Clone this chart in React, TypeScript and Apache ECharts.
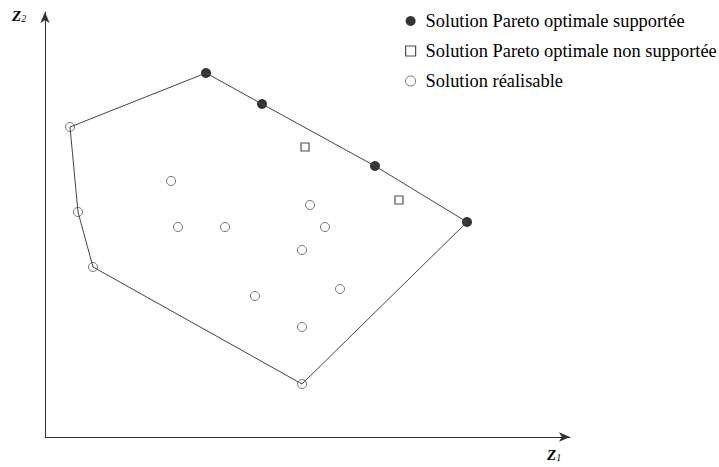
import React, { useEffect, useRef } from "react";
import * as echarts from "echarts";

// data in axis units (z1, z2)
const supported: number[][] = [[161, 364], [217, 333], [330, 271], [422, 215]];
const nonSupported: number[][] = [[260, 290], [354, 237]];
const feasible: number[][] = [
  [25, 310], [33, 225], [48, 170], [126, 256], [133, 210], [180, 210],
  [265, 232], [280, 210], [257, 187], [210, 141], [295, 148], [257, 110], [257, 53],
];
const hull: number[][] = [
  [25, 310], [161, 364], [217, 333], [330, 271], [422, 215], [257, 53],
  [48, 170], [33, 225], [25, 310],
];
const legendNames = [
  "Solution Pareto optimale supportée",
  "Solution Pareto optimale non supportée",
  "Solution réalisable",
];

export default function App() {
  const ref = useRef<HTMLDivElement>(null);
  useEffect(() => {
    const chart = echarts.init(ref.current!, null, { renderer: "svg" });
    const serif = "Liberation Serif";
    const zRich = {
      m: { fontFamily: serif, fontStyle: "italic", fontWeight: "bold", fontSize: 15, fill: "#000" },
      s: { fontFamily: serif, fontStyle: "italic", fontSize: 10, fill: "#000", padding: [6, 0, 0, 0] },
    };
    chart.setOption({
      animation: false,
      backgroundColor: "#fff",
      grid: { left: 45, right: 149, top: 12, bottom: 30 },
      xAxis: {
        type: "value", min: 0, max: 525,
        axisLine: { show: true, lineStyle: { color: "#333", width: 1 }, symbol: ["none", "arrow"], symbolSize: [7, 11] },
        axisTick: { show: false }, axisLabel: { show: false }, splitLine: { show: false },
      },
      yAxis: {
        type: "value", min: 0, max: 425,
        axisLine: { show: true, lineStyle: { color: "#333", width: 1 }, symbol: ["none", "arrow"], symbolSize: [7, 11] },
        axisTick: { show: false }, axisLabel: { show: false }, splitLine: { show: false },
      },
      legend: {
        orient: "vertical", left: 400, top: 6, itemGap: 10, itemWidth: 10, itemHeight: 10,
        textStyle: { fontFamily: serif, fontSize: 18.4, lineHeight: 20, color: "#000", padding: [0, 0, 0, 5] },
        data: [
          { name: legendNames[0], itemStyle: { color: "#000" } },
          { name: legendNames[1], itemStyle: { color: "#fff", borderColor: "#222", borderWidth: 1.2 } },
          { name: legendNames[2], itemStyle: { color: "#fff", borderColor: "#555", borderWidth: 1 } },
        ],
      },
      graphic: [
        { type: "text", left: 12, top: 8, style: { text: "{m|Z}{s|2}", rich: zRich } },
        { type: "text", left: 547, top: 447, style: { text: "{m|Z}{s|1}", rich: zRich } },
      ],
      series: [
        {
          type: "line", data: hull, symbol: "none", silent: true,
          lineStyle: { color: "#444", width: 1 },
        },
        {
          name: legendNames[2], type: "scatter", data: feasible, symbol: "circle", symbolSize: 9,
          itemStyle: { color: "#fff", borderColor: "#555", borderWidth: 1 },
        },
        {
          name: legendNames[1], type: "scatter", data: nonSupported, symbol: "rect", symbolSize: 8,
          itemStyle: { color: "#fff", borderColor: "#222", borderWidth: 1.2 },
        },
        {
          name: legendNames[0], type: "scatter", data: supported, symbol: "circle", symbolSize: 10,
          itemStyle: { color: "#000" },
        },
      ],
    });
    return () => chart.dispose();
  }, []);
  return <div ref={ref} style={{ width: 719, height: 467, position: "absolute", left: 0, top: 0 }} />;
}
